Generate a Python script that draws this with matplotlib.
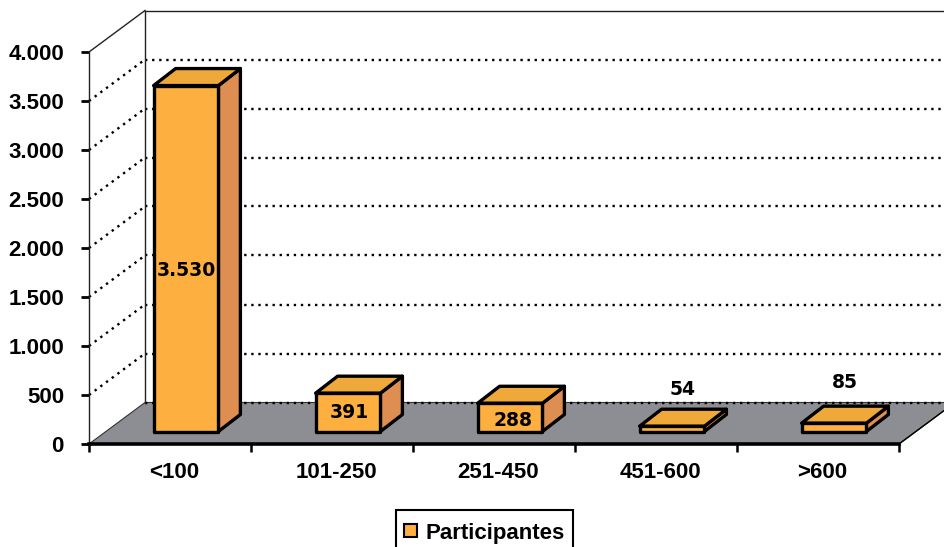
import matplotlib
matplotlib.use("Agg")
import matplotlib.pyplot as plt
from matplotlib.patches import Polygon, Patch, Rectangle

plt.rcParams['font.family'] = ['Liberation Sans', 'DejaVu Sans']

Categories = ["<100", "101-250", "251-450", "451-600", ">600"]
Values = [3530, 391, 288, 54, 85]
ValueLabels = ["3.530", "391", "288", "54", "85"]
YTicks = [0, 500, 1000, 1500, 2000, 2500, 3000, 3500, 4000]
YTickLabels = ["0", "500", "1.000", "1.500", "2.000", "2.500", "3.000", "3.500", "4.000"]
SeriesName = "Participantes"

FRONT = '#FDB03F'
TOP = '#EFA83A'
SIDE = '#DD8E50'
FLOOR = '#8C8E94'

# one category = 162 px, 4000 = 392 px
XPX = 1 / 162
YPX = 4000 / 392
DEPTH_X = 56 * XPX
DEPTH_Y = 41.5 * YPX
BAR_W = 0.4

# label shift from bar centre, px (x, y up) - small bars have it above
LabelShift = [(-1, -12), (0, 0), (2, -3), (10, -2), (10, 2)]
LabelAbove = [False, False, False, True, True]

fig = plt.figure(figsize=(9.45, 5.47), dpi=100)
ax = fig.add_axes([89 / 945, 1 - 444 / 547, 810 / 945, 392 / 547])
ax.set_xlim(0, 5)
ax.set_ylim(0, 4000)
ax.patch.set_visible(False)


def poly(pts, color, lw=2.4, ec='black', z=3):
    ax.add_patch(Polygon(pts, closed=True, facecolor=color, edgecolor=ec,
                         linewidth=lw, joinstyle='round', clip_on=False, zorder=z))


def line(xs, ys, **kw):
    ax.plot(xs, ys, clip_on=False, **kw)


# floor
poly([(0, 0), (5, 0), (5 + DEPTH_X, DEPTH_Y), (DEPTH_X, DEPTH_Y)], FLOOR, lw=0.8, ec='#333333', z=1)

# walls and grid
for v in YTicks:
    if v == 4000:
        style = dict(color='#222222', lw=1.0, zorder=2)
    else:
        style = dict(color='black', lw=1.7, linestyle=(0, (1, 2)), zorder=2)
    if v > 0:
        line([0, DEPTH_X], [v, v + DEPTH_Y], **style)
    line([DEPTH_X, 5 + DEPTH_X], [v + DEPTH_Y, v + DEPTH_Y], **style)
line([DEPTH_X, DEPTH_X], [DEPTH_Y, 4000 + DEPTH_Y], color='#222222', lw=1.0, zorder=2)

# bars
for i, val in enumerate(Values):
    x0 = i + (1 - BAR_W) / 2 + 16 * XPX
    x1 = x0 + BAR_W
    y0 = 12.5 * YPX
    y1 = y0 + val
    dx = 22 * XPX
    dy = 17 * YPX
    poly([(x1, y0), (x1 + dx, y0 + dy), (x1 + dx, y1 + dy), (x1, y1)], SIDE)
    poly([(x0, y1), (x1, y1), (x1 + dx, y1 + dy), (x0 + dx, y1 + dy)], TOP)
    poly([(x0, y0), (x1, y0), (x1, y1), (x0, y1)], FRONT)

    sx, sy = LabelShift[i]
    tx = (x0 + x1) / 2 + (sx + 1) * XPX
    if LabelAbove[i]:
        ty = y1 + 39 * YPX + sy * YPX
    else:
        ty = (y0 + y1) / 2 + sy * YPX
    ax.text(tx, ty, ValueLabels[i], ha='center', va='center', fontsize=13.5,
            fontweight='bold', family='DejaVu Sans', color='black', zorder=5, clip_on=False)

# axes
for s in ['top', 'right']:
    ax.spines[s].set_visible(False)
ax.spines['left'].set_linewidth(1.0)
ax.spines['left'].set_color('#222222')
ax.spines['bottom'].set_linewidth(2.6)
ax.spines['bottom'].set_zorder(4)
line([5, 5 + DEPTH_X], [0, DEPTH_Y], color='black', lw=1.0, zorder=2)

ax.set_yticks(YTicks)
ax.set_yticklabels(YTickLabels, fontsize=16, fontweight='bold')
ax.tick_params(axis='y', length=6, width=2.0, pad=12)
ax.set_xticks(range(6))
ax.set_xticklabels([])
ax.tick_params(axis='x', which='major', length=6, width=1.8)
ax.set_xticks([i + 0.525 for i in range(5)], minor=True)
ax.set_xticklabels(Categories, minor=True, fontsize=16, fontweight='bold')
ax.tick_params(axis='x', which='minor', length=0, pad=13)

# legend box runs off the bottom edge of the picture
fig.add_artist(Rectangle((396 / 945, -2 / 547), 177 / 945, 39 / 547, transform=fig.transFigure,
                         facecolor='white', edgecolor='black', linewidth=1.5))
leg = fig.legend(handles=[Patch(facecolor=FRONT, edgecolor='black', linewidth=1.5, label=SeriesName)],
                 loc='center', bbox_to_anchor=(484.5 / 945, 1 - 533 / 547),
                 frameon=False, handlelength=0.55, handleheight=0.55,
                 handletextpad=0.4, borderpad=0.4, borderaxespad=0, prop=dict(size=16, weight='bold'))

fig.savefig('out.png', dpi=100)
